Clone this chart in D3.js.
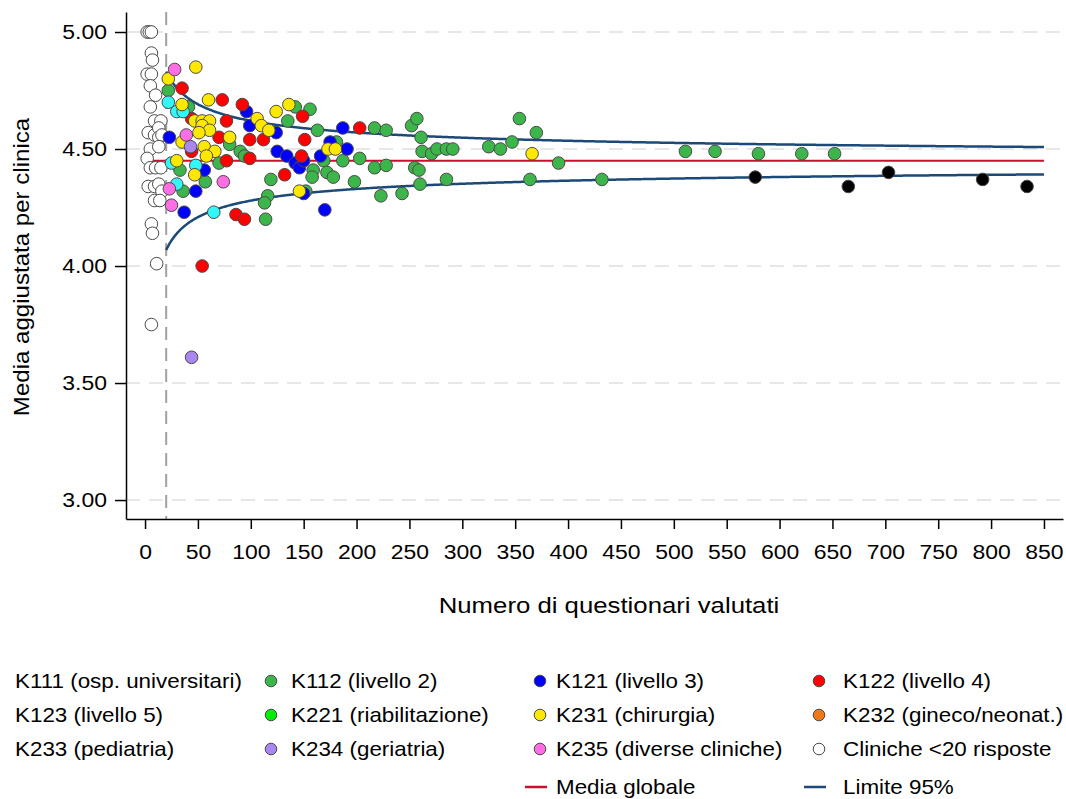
<!DOCTYPE html>
<html>
<head>
<meta charset="utf-8">
<script src="https://cdn.jsdelivr.net/npm/d3@7"></script>
<style>
  html, body { margin: 0; padding: 0; background: #fff; }
  svg text { font-family: "Liberation Sans", Arial, sans-serif; fill: #000; }
</style>
</head>
<body>
<svg id="chart" width="1066" height="799"></svg>
<script>
// Funnel plot: adjusted mean per clinic vs. number of evaluated questionnaires.
// Each group is a list of [numero questionari, media aggiustata].

const cliniche_piccole = [ // clinics with fewer than 20 responses
  [2,5.00],[4,5.00],[6,5.00],[6,4.91],[7,4.88],[2,4.82],[6,4.82],[5,4.77],[10,4.73],[5,4.68],
  [9,4.62],[15,4.62],[3,4.57],[9,4.56],[13,4.59],[13,4.55],[16,4.56],[5,4.50],[13,4.51],[2,4.46],
  [5,4.42],[10,4.42],[15,4.42],[3,4.34],[9,4.34],[13,4.35],[16,4.32],[9,4.28],[14,4.28],[6,4.18],
  [7,4.14],[11,4.01],[6,3.75]
];
const k112 = [
  [22,4.75],[41,4.68],[80,4.52],[70,4.44],[90,4.49],[94,4.47],[33,4.41],[57,4.36],[36,4.32],[119,4.37],
  [116,4.30],[113,4.27],[114,4.20],[135,4.62],[142,4.68],[156,4.67],[163,4.58],[217,4.59],[228,4.58],[252,4.60],
  [257,4.63],[261,4.55],[262,4.49],[271,4.48],[276,4.50],[285,4.50],[291,4.50],[181,4.53],[169,4.45],[187,4.45],
  [203,4.46],[159,4.41],[158,4.38],[172,4.40],[178,4.38],[198,4.36],[217,4.42],[228,4.43],[255,4.42],[259,4.41],
  [260,4.35],[285,4.37],[223,4.30],[243,4.31],[152,4.32],[325,4.51],[336,4.50],[347,4.53],[354,4.63],[370,4.57],
  [391,4.44],[364,4.37],[432,4.37],[511,4.49],[539,4.49],[580,4.48],[621,4.48],[652,4.48]
];
const k121 = [
  [23,4.55],[96,4.66],[99,4.60],[124,4.57],[56,4.41],[48,4.32],[37,4.23],[125,4.49],[134,4.47],[142,4.44],
  [146,4.42],[150,4.45],[166,4.47],[175,4.53],[191,4.50],[187,4.59],[150,4.31],[170,4.24]
];
const k122 = [
  [35,4.76],[73,4.71],[92,4.69],[44,4.63],[77,4.62],[70,4.55],[99,4.54],[112,4.54],[44,4.49],[77,4.45],
  [99,4.46],[86,4.22],[94,4.20],[54,4.00],[149,4.64],[151,4.54],[148,4.47],[132,4.39],[203,4.59]
];
const k233 = [
  [22,4.70],[30,4.66],[36,4.66],[25,4.44],[48,4.43],[30,4.35],[65,4.23]
];
const k231 = [
  [48,4.85],[22,4.80],[35,4.69],[60,4.71],[47,4.62],[54,4.62],[61,4.62],[54,4.60],[61,4.58],[51,4.57],
  [35,4.53],[80,4.55],[56,4.51],[66,4.49],[58,4.47],[30,4.45],[47,4.39],[106,4.63],[110,4.60],[117,4.58],
  [124,4.66],[136,4.69],[173,4.50],[180,4.50],[146,4.32],[366,4.48]
];
const k235 = [
  [28,4.84],[39,4.56],[23,4.33],[25,4.26],[74,4.36]
];
const k234 = [
  [43,4.51],[44,3.61]
];
const k111 = [
  [577,4.38],[665,4.34],[703,4.40],[792,4.37],[834,4.34]
];

const xTicks = [0,50,100,150,200,250,300,350,400,450,500,550,600,650,700,750,800,850];
const yTicks = [3.00,3.50,4.00,4.50,5.00];

// Funnel parameters
const mediaGlobale = 4.45;
const deviazioneStd = 0.87;
const z95 = 1.96;
const soglia = 20;      // minimum responses for a clinic to be evaluated
const nMax = 850;

const legendItems = [
  {label: "K111 (osp. universitari)", color: null},
  {label: "K112 (livello 2)", color: "#3cb64a"},
  {label: "K121 (livello 3)", color: "#0000ff"},
  {label: "K122 (livello 4)", color: "#ff0000"},
  {label: "K123 (livello 5)", color: null},
  {label: "K221 (riabilitazione)", color: "#00ee00"},
  {label: "K231 (chirurgia)", color: "#ffe800"},
  {label: "K232 (gineco/neonat.)", color: "#f07818"},
  {label: "K233 (pediatria)", color: null},
  {label: "K234 (geriatria)", color: "#a987f0"},
  {label: "K235 (diverse cliniche)", color: "#ff6ee2"},
  {label: "Cliniche <20 risposte", color: "#ffffff"}
];

const groups = [
  {data: cliniche_piccole, color: "#ffffff"},
  {data: k112, color: "#3cb64a"},
  {data: k121, color: "#0000ff"},
  {data: k122, color: "#ff0000"},
  {data: k233, color: "#33f7f7"},
  {data: k231, color: "#ffe800"},
  {data: k235, color: "#ff6ee2"},
  {data: k234, color: "#a987f0"},
  {data: k111, color: "#000000"}
];

const svg = d3.select("#chart");
const SX = 1.12; // horizontal stretch of the text face

const x = d3.scaleLinear().domain([-18, 868]).range([126, 1063]);
const y = d3.scaleLinear().domain([2.919, 5.0855]).range([519, 12]);

// horizontal grid
svg.append("g").selectAll("line").data(yTicks).join("line")
  .attr("x1", 126).attr("x2", 1063)
  .attr("y1", d => y(d)).attr("y2", d => y(d))
  .attr("stroke", "#e0e0e0").attr("stroke-width", 1.5)
  .attr("stroke-dasharray", "14,9");

// threshold line at 20 responses
svg.append("line")
  .attr("x1", x(soglia)).attr("x2", x(soglia))
  .attr("y1", 12).attr("y2", 519)
  .attr("stroke", "#a0a0a0").attr("stroke-width", 2)
  .attr("stroke-dasharray", "13,8");

// axes
const xAxis = svg.append("g").attr("transform", "translate(0,519)")
  .call(d3.axisBottom(x).tickValues(xTicks).tickSize(10).tickSizeOuter(0).tickPadding(15).tickFormat(d3.format("d")));
const yAxis = svg.append("g").attr("transform", "translate(126,0)")
  .call(d3.axisLeft(y).tickValues(yTicks).tickSize(11).tickSizeOuter(0).tickPadding(8).tickFormat(d3.format(".2f")));
[xAxis, yAxis].forEach(a => {
  a.select(".domain").attr("stroke", "#000").attr("stroke-width", 1.5);
  a.selectAll(".tick line").attr("stroke", "#000").attr("stroke-width", 1.5);
  a.selectAll(".tick text").attr("font-size", 20.5).attr("font-family", "Liberation Sans, Arial, sans-serif");
});
xAxis.selectAll(".tick text").attr("transform", `scale(${SX},1)`);
yAxis.selectAll(".tick text").attr("x", -19 / SX).attr("transform", `scale(${SX},1)`);

// funnel limits and global mean
const nRange = d3.range(soglia, nMax + 1, 1);
const limite = s => nRange.map(n => [n, mediaGlobale + s * z95 * deviazioneStd / Math.sqrt(n)]);
const line = d3.line().x(d => x(d[0])).y(d => y(d[1]));

svg.append("path").datum([[0, mediaGlobale], [nMax, mediaGlobale]])
  .attr("d", line).attr("fill", "none").attr("stroke", "#c8102e").attr("stroke-width", 2);
[1, -1].forEach(s => {
  svg.append("path").datum(limite(s))
    .attr("d", line).attr("fill", "none").attr("stroke", "#1c4a78").attr("stroke-width", 2.5);
});

// clinics
groups.forEach(g => {
  svg.append("g").selectAll("circle").data(g.data).join("circle")
    .attr("cx", d => x(d[0])).attr("cy", d => y(d[1]))
    .attr("r", 6.3)
    .attr("fill", g.color).attr("stroke", "#4a4a4a").attr("stroke-width", 1);
});

// axis titles
function stretchedText(parent, tx, ty, txt, size, anchor, rotate) {
  const g = parent.append("g").attr("transform", `translate(${tx},${ty})${rotate ? " rotate(" + rotate + ")" : ""} scale(${SX},1)`);
  g.append("text").attr("text-anchor", anchor).attr("font-size", size).text(txt);
  return g;
}
stretchedText(svg, 609, 613, "Numero di questionari valutati", 23, "middle");
stretchedText(svg, 29, 267, "Media aggiustata per clinica", 21.5, "middle", -90);

// legend
const cols = [{mx: null, tx: 15}, {mx: 271, tx: 291}, {mx: 540, tx: 556}, {mx: 819, tx: 843}];
const rows = [681, 715, 749];
const leg = svg.append("g");
legendItems.forEach((it, i) => {
  const c = cols[i % 4], r = rows[Math.floor(i / 4)];
  if (it.color && c.mx !== null) {
    leg.append("circle").attr("cx", c.mx).attr("cy", r).attr("r", 5.8)
      .attr("fill", it.color).attr("stroke", "#4a4a4a").attr("stroke-width", 1);
  }
  stretchedText(leg, c.tx, r + 7, it.label, 20, "start");
});
const lineItems = [
  {label: "Media globale", color: "#c8102e", col: 2},
  {label: "Limite 95%", color: "#1c4a78", col: 3}
];
lineItems.forEach(it => {
  const c = cols[it.col];
  leg.append("line").attr("x1", c.mx - 15).attr("x2", c.mx + 7)
    .attr("y1", 787).attr("y2", 787).attr("stroke", it.color).attr("stroke-width", 2.5);
  stretchedText(leg, c.tx, 794, it.label, 20, "start");
});
</script>
</body>
</html>
